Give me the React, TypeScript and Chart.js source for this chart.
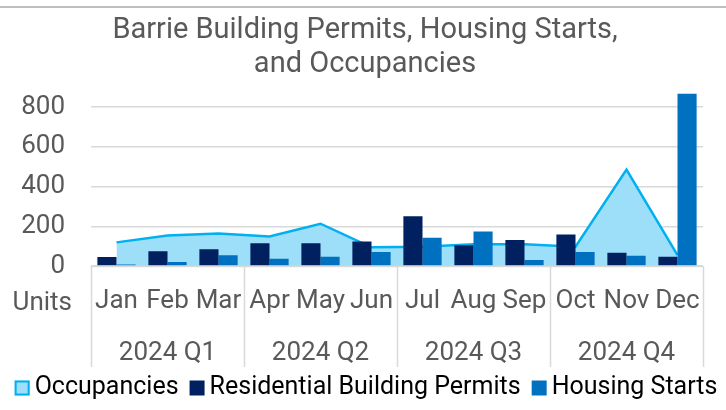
import React, { useEffect, useRef } from "react";
import { Chart, registerables } from "chart.js";

Chart.register(...registerables);

const months = ["Jan", "Feb", "Mar", "Apr", "May", "Jun", "Jul", "Aug", "Sep", "Oct", "Nov", "Dec"];
const quarters = ["2024 Q1", "2024 Q2", "2024 Q3", "2024 Q4"];
const occupancies = [119, 154, 164, 149, 213, 94, 97, 110, 110, 97, 486, 55];
const permits = [45, 74, 85, 114, 114, 124, 251, 105, 131, 159, 67, 47];
const starts = [8, 20, 54, 37, 47, 70, 142, 174, 30, 70, 52, 868];
const titleLines = ["Barrie Building Permits, Housing Starts,", "and Occupancies"];
const yTickValues = [0, 200, 400, 600, 800];
const axisTitle = "Units";

const FONT = "Roboto, 'Noto Sans', sans-serif";
const GRAY = "#595959";
const GRID = "#d9d9d9";

const xLabelsPlugin = {
  id: "xLabels",
  afterDraw(chart: any) {
    const ctx = chart.ctx;
    const { left, right, bottom } = chart.chartArea;
    const n = months.length;
    const w = (right - left) / n;
    ctx.save();
    ctx.strokeStyle = GRID;
    ctx.lineWidth = 1.5;
    ctx.beginPath();
    ctx.moveTo(left, bottom + 0.5);
    ctx.lineTo(right, bottom + 0.5);
    ctx.stroke();
    for (let q = 0; q <= quarters.length; q++) {
      const x = Math.round(left + q * 3 * w) + 0.5;
      ctx.beginPath();
      ctx.moveTo(x, bottom);
      ctx.lineTo(x, bottom + 101);
      ctx.stroke();
    }
    ctx.fillStyle = GRAY;
    ctx.font = `26px ${FONT}`;
    ctx.textBaseline = "middle";
    ctx.textAlign = "center";
    months.forEach((m, i) => {
      ctx.fillText(m, left + (i + 0.5) * w, bottom + 35);
    });
    quarters.forEach((q, i) => {
      ctx.fillText(q, left + (i * 3 + 1.5) * w, bottom + 87);
    });
    ctx.textAlign = "right";
    ctx.fillText(axisTitle, left - 19, bottom + 37);
    ctx.restore();
  },
};

const titlePlugin = {
  id: "customTitle",
  afterDraw(chart: any) {
    const ctx = chart.ctx;
    ctx.save();
    ctx.fillStyle = GRAY;
    ctx.font = `29px ${FONT}`;
    ctx.textBaseline = "middle";
    ctx.textAlign = "center";
    titleLines.forEach((t, i) => {
      ctx.fillText(t, chart.width / 2 + 2, 31 + i * 33.6);
    });
    ctx.restore();
  },
};

const legendPlugin = {
  id: "customLegend",
  afterDraw(chart: any) {
    const ctx = chart.ctx;
    const ds = chart.data.datasets;
    ctx.save();
    ctx.font = `25px ${FONT}`;
    ctx.textBaseline = "middle";
    ctx.textAlign = "left";
    const box = 15;
    const gap = 5;
    const itemGap = 11;
    const widths = ds.map((d: any) => box + gap + ctx.measureText(d.label).width);
    const total = widths.reduce((a: number, b: number) => a + b, 0) + itemGap * (ds.length - 1);
    let x = (chart.width - total) / 2 + 3;
    const y = 388;
    ds.forEach((d: any, i: number) => {
      ctx.fillStyle = d.backgroundColor;
      ctx.fillRect(x, y - box / 2, box, box);
      if (d.type === "line") {
        ctx.strokeStyle = d.borderColor;
        ctx.lineWidth = 2;
        ctx.strokeRect(x + 1, y - box / 2 + 1, box - 2, box - 2);
      }
      ctx.fillStyle = "#000000";
      ctx.fillText(d.label, x + box + gap, y);
      x += widths[i] + itemGap;
    });
    ctx.restore();
  },
};

const topLinePlugin = {
  id: "topLine",
  beforeDraw(chart: any) {
    const ctx = chart.ctx;
    ctx.save();
    ctx.fillStyle = "#ffffff";
    ctx.fillRect(0, 0, chart.width, chart.height);
    ctx.fillStyle = "#bfbfbf";
    ctx.fillRect(0, 6, chart.width, 2);
    ctx.restore();
  },
};

export default function App() {
  const ref = useRef<HTMLCanvasElement>(null);
  useEffect(() => {
    document.body.style.margin = "0";
    const chart = new Chart(ref.current!, {
      data: {
        labels: months,
        datasets: [
          {
            type: "line",
            label: "Occupancies",
            data: occupancies,
            borderColor: "#00b0f0",
            backgroundColor: "#9ddff8",
            borderWidth: 2.5,
            fill: "origin",
            pointRadius: 0,
            tension: 0,
            order: 2,
          },
          {
            type: "bar",
            label: "Residential Building Permits",
            data: permits,
            backgroundColor: "#002060",
            categoryPercentage: 0.75,
            barPercentage: 1,
            order: 1,
          },
          {
            type: "bar",
            label: "Housing Starts",
            data: starts,
            backgroundColor: "#0070c0",
            categoryPercentage: 0.75,
            barPercentage: 1,
            order: 1,
          },
        ],
      } as any,
      options: {
        animation: false,
        responsive: false,
        maintainAspectRatio: false,
        layout: { padding: { left: 0, right: 23, top: 91.3, bottom: 0 } },
        plugins: {
          legend: { display: false },
          tooltip: { enabled: false },
          title: { display: false },
        },
        scales: {
          x: {
            offset: true,
            grid: { display: false, drawTicks: false },
            border: { display: false },
            ticks: { display: false },
            afterFit(scale: any) {
              scale.height = 144;
            },
          },
          y: {
            min: 0,
            max: 880,
            afterBuildTicks(scale: any) {
              scale.ticks = yTickValues.map((v) => ({ value: v }));
            },
            grid: { color: GRID, lineWidth: 1.5, drawTicks: false },
            border: { display: false },
            ticks: {
              color: GRAY,
              font: { family: FONT, size: 26 },
              padding: 26,
            },
            afterFit(scale: any) {
              scale.width = 91;
            },
          },
        },
      },
      plugins: [topLinePlugin, xLabelsPlugin, titlePlugin, legendPlugin],
    } as any);
    return () => chart.destroy();
  }, []);
  return (
    <div style={{ position: "absolute", left: 0, top: 0, width: 726, height: 410 }}>
      <canvas ref={ref} width={726} height={410} style={{ width: 726, height: 410 }} />
    </div>
  );
}
